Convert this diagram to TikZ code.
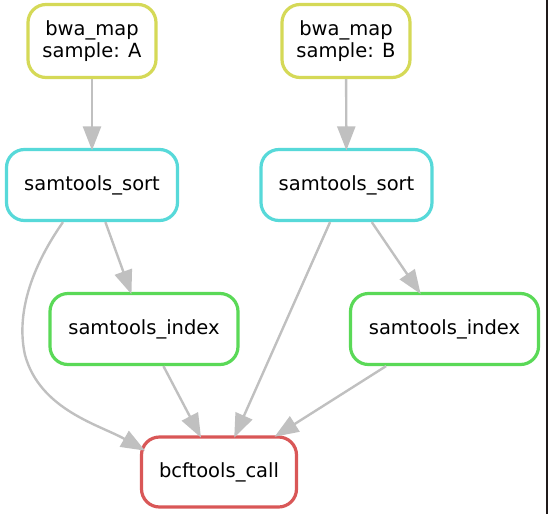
\documentclass[tikz,border=0pt]{standalone}
\usepackage{fontspec}
\setmainfont{DejaVu Sans}
\usetikzlibrary{arrows.meta,calc}
\definecolor{cyel}{RGB}{213,217,87}
\definecolor{ccyan}{RGB}{87,217,217}
\definecolor{cgreen}{RGB}{90,217,87}
\definecolor{cred}{RGB}{217,87,87}
\definecolor{cedge}{RGB}{192,192,192}
\definecolor{cstrip}{RGB}{32,26,26}
\begin{document}
\begin{tikzpicture}[x=1pt,y=-1pt,
  rulebox/.style={draw, rounded corners=18pt, line width=3.2pt, fill=white,
    inner sep=0pt, align=center, text=black,
    font=\fontsize{19.5}{22}\selectfont},
  bwabox/.style={rulebox, draw=cyel, minimum width=128pt, minimum height=73pt},
  sortbox/.style={rulebox, draw=ccyan, minimum width=171pt, minimum height=71pt},
  indexbox/.style={rulebox, draw=cgreen, minimum width=188pt, minimum height=71pt},
  callbox/.style={rulebox, draw=cred, minimum width=155pt, minimum height=70pt},
  edge/.style={draw=cedge, line width=2.4pt, shorten >=-2.5pt,
    -{Triangle[length=24pt,width=18pt,fill=cedge]}}
]
\useasboundingbox (0,0) rectangle (548,514);
\fill[cstrip] (545.5,0) rectangle (548,514);

\node[bwabox] (bA) at (92,41) {bwa\_map\\sample: A};
\node[bwabox] (bB) at (346,41) {bwa\_map\\sample: B};
\node[sortbox] (sA) at (92,185) {samtools\_sort};
\node[sortbox] (sB) at (346.5,185) {samtools\_sort};
\node[indexbox] (iA) at (144,329) {samtools\_index};
\node[indexbox] (iB) at (444.5,329) {samtools\_index};
\node[callbox] (bc) at (219,472) {bcftools\_call};

\draw[edge] (bA) -- (sA);
\draw[edge] (bB) -- (sB);
\draw[edge] (sA) -- (iA);
\draw[edge] (sB) -- (iB);
\draw[edge] (iA) -- (bc);
\draw[edge] (sB) -- (bc);
\draw[edge] (iB) -- (bc);
\draw[edge] ($(sA.south)+(-29,0)$) .. controls (35,262) and (15,310) .. (25,355)
  .. controls (40,410) and (100,425) .. ($(bc.north west)+(3,14)$);
\end{tikzpicture}
\end{document}
